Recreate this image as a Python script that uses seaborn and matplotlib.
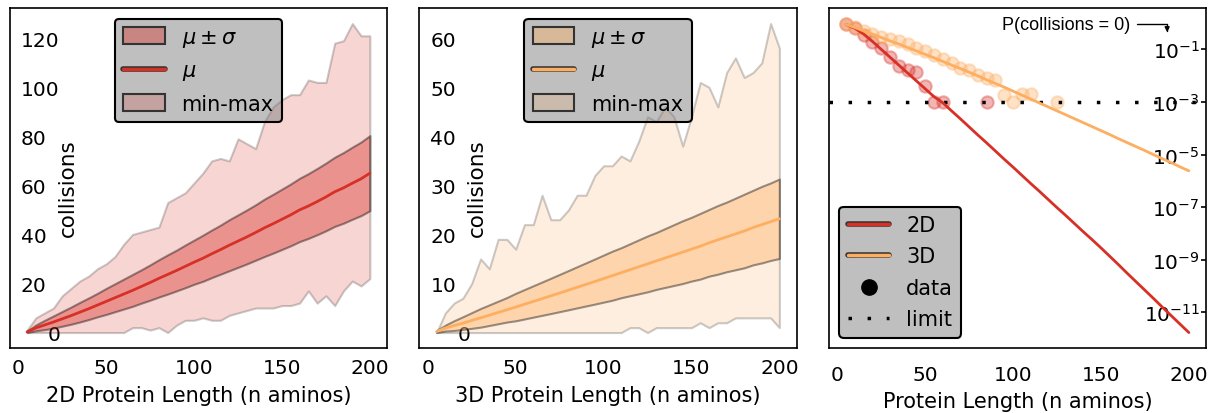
import numpy as np
import matplotlib
matplotlib.use("Agg")
import matplotlib.pyplot as plt
import matplotlib.patheffects as pe
from matplotlib.lines import Line2D
from matplotlib.patches import Patch
from matplotlib.ticker import NullLocator
import seaborn as sns

sns.set_style("white")
plt.rcParams["font.family"] = ["DejaVu Sans"]
plt.rcParams["mathtext.fontset"] = "dejavusans"
plt.rcParams["axes.edgecolor"] = "black"
plt.rcParams["axes.linewidth"] = 1.2
plt.rcParams["text.color"] = "black"
plt.rcParams["axes.labelcolor"] = "black"
plt.rcParams["xtick.color"] = "black"
plt.rcParams["ytick.color"] = "black"

red = "#d73027"
orange = "#fdae61"

# protein lengths (n aminos)
lengths = [5, 10, 15, 20, 25, 30, 35, 40, 45, 50, 55, 60, 65, 70, 75, 80, 85, 90, 95, 100,
           105, 110, 115, 120, 125, 130, 135, 140, 145, 150, 155, 160, 165, 170, 175, 180, 185, 190, 195, 200]

# 2D collisions
mean_2d = [0.3, 1.9, 3.1, 4.3, 5.6, 6.9, 8.3, 9.7, 11.2, 12.7, 14.2, 15.7, 17.2, 18.8, 20.4, 22.1, 23.7, 25.3, 27.0, 28.7,
           30.3, 32.1, 33.8, 35.6, 37.3, 39.0, 40.8, 42.7, 44.4, 46.2, 48.0, 50.0, 51.6, 53.4, 55.3, 57.4, 59.0, 60.9, 62.7, 65.0]
std_2d = [0.3, 1.2, 1.9, 2.5, 3.0, 3.5, 4.0, 4.4, 4.8, 5.3, 5.7, 6.1, 6.5, 6.8, 7.2, 7.6, 8.0, 8.3, 8.7, 9.0,
          9.4, 9.7, 10.0, 10.4, 10.7, 11.0, 11.3, 11.7, 12.0, 12.3, 12.6, 12.9, 13.2, 13.5, 13.8, 14.1, 14.4, 14.7, 15.0, 15.3]
min_2d = [0, 0, 0, 0, 0, 0, 0, 0, 0, 0, 0, 0, 2, 2, 1, 2, 0, 3, 5, 5,
          6, 5, 5, 7, 8, 9, 10, 10, 10, 11, 11, 12, 17, 12, 15, 11, 17, 21, 19, 22]
max_2d = [1, 6, 8, 10, 15, 18, 21, 23, 26, 28, 31, 36, 40, 41, 42, 43, 53, 55, 57, 61,
          65, 70, 71, 70, 79, 77, 75, 86, 92, 95, 97, 97, 103, 102, 102, 118, 119, 126, 121, 121]

# 3D collisions
mean_3d = [0.2, 0.91, 1.42, 1.93, 2.46, 3.0, 3.54, 4.09, 4.64, 5.2, 5.77, 6.34, 6.91, 7.48, 8.06, 8.64, 9.23, 9.82, 10.4, 11.0,
           11.6, 12.2, 12.8, 13.4, 14.0, 14.6, 15.2, 15.8, 16.4, 17.0, 17.6, 18.3, 18.9, 19.5, 20.1, 20.7, 21.4, 22.0, 22.6, 23.2]
std_3d = [0.2, 0.6, 1.0, 1.3, 1.6, 1.9, 2.1, 2.3, 2.5, 2.8, 3.0, 3.2, 3.4, 3.6, 3.8, 4.0, 4.2, 4.4, 4.6, 4.8,
          5.0, 5.1, 5.3, 5.5, 5.7, 5.8, 6.0, 6.2, 6.4, 6.5, 6.7, 6.8, 7.0, 7.1, 7.3, 7.5, 7.6, 7.8, 7.9, 8.1]
min_3d = [0, 0, 0, 0, 0, 0, 0, 0, 0, 0, 0, 0, 0, 0, 0, 0, 0, 0, 0, 0,
          0, 0, 1, 1, 0, 1, 1, 1, 1, 1, 2, 1, 2, 2, 3, 3, 3, 3, 3, 1]
max_3d = [0, 4, 6, 7, 10, 15, 13, 19, 19, 17, 22, 22, 28, 23, 23, 25, 28, 28, 32, 34,
          34, 36, 35, 39, 44, 43, 46, 44, 38, 44, 51, 50, 46, 53, 56, 52, 53, 55, 63, 58]

# P(collisions = 0) fit (log10)
p0_fit_2d = [-0.05, -0.2, -0.42, -0.7, -1.0, -1.3, -1.6, -1.9, -2.2, -2.5, -2.8, -3.03, -3.34, -3.64, -3.95, -4.26, -4.56, -4.87, -5.18, -5.48,
             -5.79, -6.10, -6.40, -6.71, -7.02, -7.32, -7.63, -7.94, -8.24, -8.55, -8.87, -9.19, -9.52, -9.84, -10.16, -10.48, -10.81, -11.13, -11.45, -11.77]
p0_fit_3d = [-0.05, -0.17, -0.3, -0.42, -0.55, -0.68, -0.8, -0.93, -1.06, -1.19, -1.32, -1.46, -1.6, -1.73, -1.87, -2.01, -2.16, -2.30, -2.44, -2.59,
             -2.74, -2.89, -3.04, -3.19, -3.34, -3.49, -3.64, -3.79, -3.94, -4.09, -4.24, -4.40, -4.55, -4.70, -4.85, -5.01, -5.16, -5.31, -5.47, -5.62]

# P(collisions = 0) measured (log10), only non-zero values
p0_len_2d = [5, 10, 15, 20, 25, 30, 35, 40, 45, 50, 55, 60, 85]
p0_data_2d = [-0.02, -0.18, -0.46, -0.72, -0.96, -1.28, -1.63, -1.78, -1.85, -2.4, -3.0, -3.0, -3.0]
p0_len_3d = [5, 10, 15, 20, 25, 30, 35, 40, 45, 50, 55, 60, 65, 70, 75, 80, 85, 90, 95, 100, 105, 110, 125]
p0_data_3d = [-0.03, -0.15, -0.29, -0.42, -0.52, -0.6, -0.7, -0.81, -0.94, -1.06, -1.21, -1.38, -1.52, -1.7, -1.8, -1.98,
              -2.1, -2.15, -2.72, -3.0, -2.68, -2.7, -3.0]
limit = 1e-3

fig, axes = plt.subplots(1, 3, figsize=(12.14, 4.14), dpi=100)
fig.subplots_adjust(left=0.0082, right=0.9934, top=0.978, bottom=0.157, wspace=0.086)

stroke = [pe.Stroke(linewidth=4, foreground="#333333"), pe.Normal()]


def style_legend(leg):
    frame = leg.get_frame()
    frame.set_alpha(None)
    frame.set_facecolor((0.5, 0.5, 0.5, 0.5))
    frame.set_edgecolor("black")
    frame.set_linewidth(1.5)


# collision panels
for ax, mu, sd, lo, hi, c, name, yt in [
    (axes[0], mean_2d, std_2d, min_2d, max_2d, red, "2D", [0, 20, 40, 60, 80, 100, 120]),
    (axes[1], mean_3d, std_3d, min_3d, max_3d, orange, "3D", [0, 10, 20, 30, 40, 50, 60]),
]:
    mu = np.array(mu)
    sd = np.array(sd)
    ax.fill_between(lengths, lo, hi, color=c, alpha=0.2, edgecolor="black", linewidth=1.5)
    ax.fill_between(lengths, mu - sd, mu + sd, color=c, alpha=0.4, edgecolor="black", linewidth=1.5)
    sns.lineplot(x=lengths, y=mu, ax=ax, color=c, linewidth=2)
    ax.set_axisbelow(True)

    ax.set_xticks([0, 50, 100, 150, 200])
    ax.set_yticks(yt)
    ax.tick_params(axis="x", direction="in", length=5.5, width=1.2, pad=7, labelsize=14.5)
    ax.tick_params(axis="y", direction="inout", length=5.3, width=1.2, pad=-10.5, labelsize=14.5)
    for lab in ax.get_yticklabels():
        lab.set_ha("left")
    ax.yaxis.get_major_ticks()[0].label1.set_x(0.072)

    ax.set_xlabel(f"{name} Protein Length (n aminos)", fontsize=15, labelpad=6)
    ax.set_ylabel("collisions", fontsize=15.5)
    ax.yaxis.set_label_coords(0.18, 0.474)

    handles = [
        Patch(facecolor=matplotlib.colors.to_rgba(c, 0.4), edgecolor="#333333", linewidth=1.5),
        Line2D([], [], color=c, linewidth=2.5, path_effects=stroke),
        Patch(facecolor=matplotlib.colors.to_rgba(c, 0.2), edgecolor="#333333", linewidth=1.5),
    ]
    leg = ax.legend(handles, [r"$\mu \pm \sigma$", r"$\mu$", "min-max"], loc="upper center",
                    fontsize=15, handleheight=0.85, labelspacing=0.55, fancybox=True)
    style_legend(leg)

# probability of no collisions
ax = axes[2]
ax.set_yscale("log")
ax.axhline(limit, color="black", linewidth=2.5, linestyle=(0, (1, 4.5)))
sns.scatterplot(x=p0_len_2d, y=10 ** np.array(p0_data_2d), ax=ax, color=red, s=80, alpha=0.35,
                edgecolor=red, linewidth=1.5)
sns.scatterplot(x=p0_len_3d, y=10 ** np.array(p0_data_3d), ax=ax, color=orange, s=80, alpha=0.35,
                edgecolor=orange, linewidth=1.5)
sns.lineplot(x=lengths, y=10 ** np.array(p0_fit_2d), ax=ax, color=red, linewidth=2)
sns.lineplot(x=lengths, y=10 ** np.array(p0_fit_3d), ax=ax, color=orange, linewidth=2)
ax.set_axisbelow(True)

ax.set_xticks([0, 50, 100, 150, 200])
ax.set_yticks([1e-1, 1e-3, 1e-5, 1e-7, 1e-9, 1e-11])
ax.yaxis.set_minor_locator(NullLocator())
ax.yaxis.tick_right()
ax.tick_params(axis="x", direction="out", length=3.5, width=1.2, pad=8.5, labelsize=14.5)
ax.tick_params(axis="y", direction="in", length=3.5, width=1.2, pad=-4.5, labelsize=14.5)
for lab in ax.get_yticklabels():
    lab.set_ha("right")
ax.set_xlabel("Protein Length (n aminos)", fontsize=15, labelpad=5)

ax.annotate("P(collisions = 0)", xy=(0.897, 0.929), xycoords="axes fraction",
            xytext=(0.80, 0.953), textcoords="axes fraction", ha="right", va="center",
            fontsize=13, family="Liberation Sans",
            arrowprops=dict(arrowstyle="-|>", color="black", linewidth=1, mutation_scale=7,
                            connectionstyle="angle,angleA=0,angleB=90,rad=0", shrinkA=2, shrinkB=0))

handles = [
    Line2D([], [], color=red, linewidth=2.5, path_effects=stroke),
    Line2D([], [], color=orange, linewidth=2.5, path_effects=stroke),
    Line2D([], [], color="black", linestyle="none", marker="o", markersize=11),
    Line2D([], [], color="black", linewidth=2.5, linestyle=(0, (1, 4.5))),
]
leg = ax.legend(handles, ["2D", "3D", "data", "limit"], loc="lower left", fontsize=15,
                labelspacing=0.55, fancybox=True)
style_legend(leg)

fig.savefig("out.png", dpi=100)
